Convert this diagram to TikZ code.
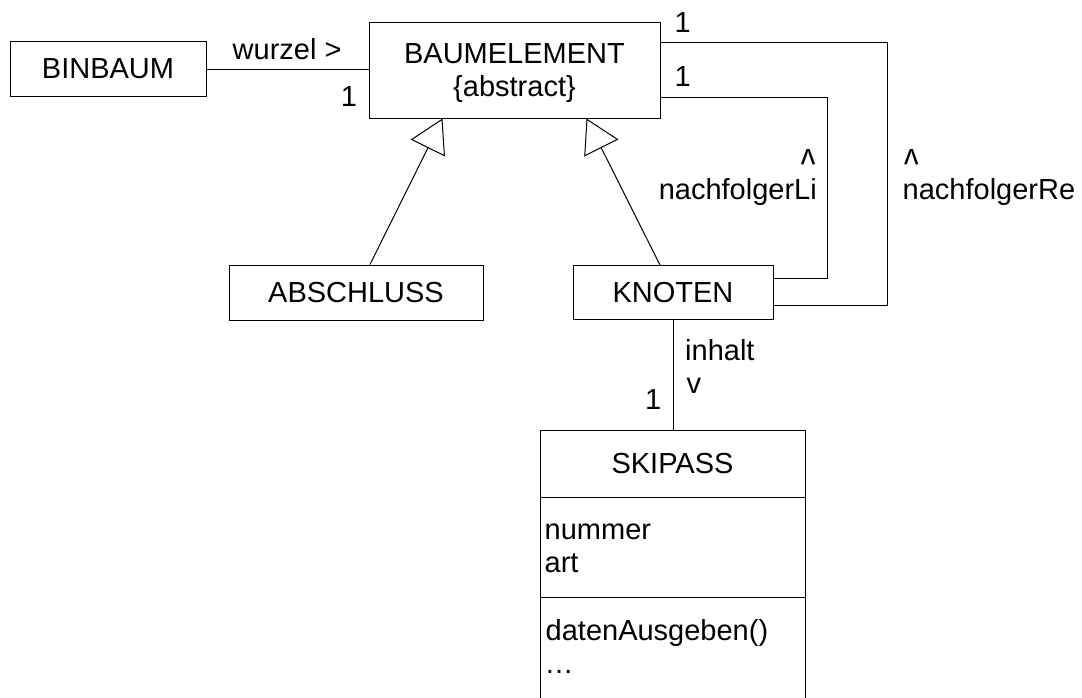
\documentclass[tikz,border=0pt]{standalone}
\usepackage{fontspec}
\usepackage{graphicx}
\setmainfont{Liberation Sans}
\usetikzlibrary{arrows.meta,calc}
% role-name arrow pointing up: a turned "v"
\newcommand{\upmark}{\rotatebox[origin=c]{180}{v}}
\begin{document}
\begin{tikzpicture}[x=1pt,y=-1pt,
  every node/.style={font=\fontsize{29}{33}\selectfont, inner sep=0pt},
  cls/.style={draw, line width=1pt, rectangle},
  txt/.style={anchor=base west},
  mult/.style={anchor=base},
  assoc/.style={line width=1pt},
  gen/.style={line width=1pt, -{Triangle[length=33pt,width=38pt,fill=white]}},
]
\clip (0,0) rectangle (1082,697);
\fill[white] (0,0) rectangle (1082,697);

% classes
\node[cls, minimum width=196pt, minimum height=55pt] (binbaum) at (108,69) {BINBAUM};
\node[cls, minimum width=291pt, minimum height=96pt, align=center, text depth=0pt] (baum) at (514.5,70) {BAUMELEMENT\\\{abstract\}};
\node[cls, minimum width=254pt, minimum height=55pt] (abschluss) at (356,292.5) {ABSCHLUSS};
\node[cls, minimum width=200pt, minimum height=53.5pt] (knoten) at (673,292.3) {KNOTEN};

% SKIPASS with its three compartments
\node[cls, minimum width=265pt, minimum height=67.3pt] (skihead) at (672.5,463.65) {SKIPASS};
\node[cls, minimum width=265pt, minimum height=100.4pt] (skiattr) at (672.5,547.5) {};
\node[cls, minimum width=265pt, minimum height=132pt] (skiops) at (672.5,663.7) {};
\node[txt] (nummer) at ($(skiattr.north west)+(5,42.7)$) {nummer};
\node[txt] (art) at ($(skiattr.north west)+(5,75.7)$) {art};
\node[txt] (daten) at ($(skiops.north west)+(6,43.5)$) {datenAusgeben()};
\node[txt] (more) at ($(skiops.north west)+(5,76.6)$) {\textellipsis};

% association BINBAUM -> BAUMELEMENT
\draw[assoc] (binbaum.east) -- (baum.west |- binbaum.east);
\node[txt] (wurzel) at (232.5,59.3) {wurzel >};
\node[mult] (m1) at (349,106) {1};

% nachfolgerRe
\coordinate (reTop) at (887.7,42.7);
\coordinate (reBot) at (887.7,305);
\draw[assoc] (baum.east |- reTop) -- (reTop) -- (reBot) -- (knoten.east |- reBot);
\node[mult] (m2) at (682.7,32) {1};
\node[txt] (reArrow) at (904,165) {\upmark};
\node[txt] (reName) at (902.5,199) {nachfolgerRe};

% nachfolgerLi
\coordinate (liTop) at (827.7,97.3);
\coordinate (liBot) at (827.7,278);
\draw[assoc] (baum.east |- liTop) -- (liTop) -- (liBot) -- (knoten.east |- liBot);
\node[mult] (m3) at (682.7,86) {1};
\node[anchor=base east] (liArrow) at (815.5,165) {\upmark};
\node[anchor=base east] (liName) at (817,199) {nachfolgerLi};

% generalisations
\draw[gen] ($(abschluss.north)+(14,0)$) -- ($(baum.south)+(-72,0)$);
\draw[gen] ($(knoten.north)+(-13,0)$) -- ($(baum.south)+(72,0)$);

% inhalt
\draw[assoc] (knoten.south) -- (knoten.south |- skihead.north);
\node[txt] (inhalt) at (685,360) {inhalt};
\node[txt] (down) at (686.5,393) {v};
\node[mult] (m4) at (653.2,409) {1};
\end{tikzpicture}
\end{document}
